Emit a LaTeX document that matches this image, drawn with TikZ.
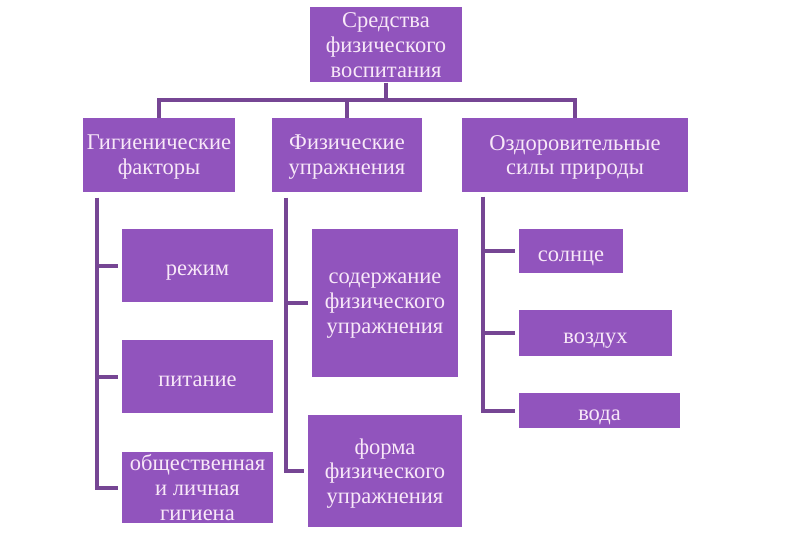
\documentclass[tikz,border=0pt]{standalone}
\usepackage{fontspec}
\setmainfont{Liberation Serif}
\usetikzlibrary{positioning}
\definecolor{boxpurple}{RGB}{145,84,189}
\definecolor{linepurple}{RGB}{118,70,148}
\definecolor{boxtext}{RGB}{248,232,248}

\begin{document}
\begin{tikzpicture}[x=1pt, y=-1pt,
    box/.style={rectangle, fill=boxpurple, text=boxtext, align=center, inner sep=0pt, text depth=0pt,
      execute at begin node={\rule{0pt}{20pt}}, font=\fontsize{22.5}{24.8}\selectfont},
    conn/.style={draw=linepurple, line width=4pt},
    branch/.style={conn, shorten >=4pt}
  ]
    \useasboundingbox (0,0) rectangle (786,537);
    % top level
    \node[box, minimum width=152pt, minimum height=75pt] (means) at (386,45) {Средства\\физического\\воспитания};
    % groups
    \node[box, minimum width=152pt, minimum height=74pt] (hyg) at (159,155) {Гигиенические\\факторы};
    \node[box, minimum width=150pt, minimum height=74pt] (phys) at (347,155) {Физические\\упражнения};
    \node[box, minimum width=226pt, minimum height=74pt] (nature) at (575,155) {Оздоровительные\\силы природы};
    % items
    \node[box, minimum width=151pt, minimum height=73pt] (regime) at (197.5,265.5) {режим};
    \node[box, minimum width=151pt, minimum height=73pt] (food) at (197.5,376.5) {питание};
    \node[box, minimum width=151pt, minimum height=71pt] (hygiene) at (197.5,487.5) {общественная\\и личная\\гигиена};
    \node[box, minimum width=146pt, minimum height=148pt] (content) at (385,303) {содержание\\физического\\упражнения};
    \node[box, minimum width=154pt, minimum height=112pt] (form) at (385,471) {форма\\физического\\упражнения};
    \node[box, minimum width=104pt, minimum height=44pt] (sun) at (571,251) {солнце};
    \node[box, minimum width=153pt, minimum height=46pt] (air) at (595.5,333) {воздух};
    \node[box, minimum width=161pt, minimum height=35pt] (water) at (599.5,410.5) {вода};
    % connectors
    \coordinate (bus) at (386,100);
    \coordinate (hygspine) at (97,198);
    \coordinate (physspine) at (286,198);
    \coordinate (naturespine) at (483,197);
    \draw[conn] (means.south) -- (bus);
    \draw[conn] (hyg.north) |- (bus) -| (nature.north);
    \draw[conn] (phys.north) -- (phys.north |- bus);
    \foreach \n in {regime, food, hygiene}
      \draw[branch] (hygspine) |- (\n.west);
    \foreach \n in {content, form}
      \draw[branch] (physspine) |- (\n.west);
    \foreach \n in {sun, air, water}
      \draw[branch] (naturespine) |- (\n.west);
  \end{tikzpicture}
\end{document}
